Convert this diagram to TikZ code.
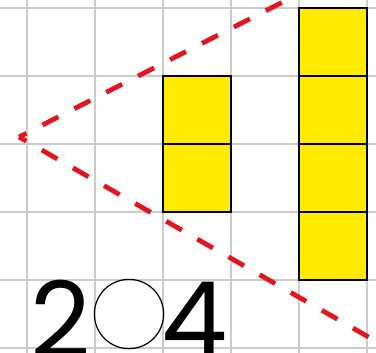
\documentclass[tikz,border=0pt]{standalone}
\usepackage{fontspec}
\newfontfamily\digitfont{Poppins}
\definecolor{gridgray}{RGB}{204,204,204}
\definecolor{cellyellow}{RGB}{255,235,0}
\definecolor{dashred}{RGB}{230,20,30}
\begin{document}
\begin{tikzpicture}[x=0.14706mm, y=-0.14706mm,
  gridline/.style={draw=gridgray, line width=0.8pt},
  cell/.style={draw=black, fill=cellyellow, line width=0.8pt, minimum size=28.3pt, inner sep=0pt, outer sep=0pt, shape=rectangle},
  redline/.style={draw=dashred, line width=2pt, dash pattern=on 7.5pt off 7.5pt, dash phase=4pt},
  digit/.style={inner sep=0pt, outer sep=0pt, font=\digitfont\fontsize{44}{44}\selectfont},
  ring/.style={draw=black, line width=0.5pt, circle, minimum size=29pt, inner sep=0pt}]
\useasboundingbox (0,0) rectangle (376,352);
\clip (0,0) rectangle (376,352);
% grid
\foreach \gx in {27,95,163,231,299,367} \draw[gridline] (\gx,-10) -- (\gx,362);
\foreach \gy in {8,76,144,212,280,348} \draw[gridline] (-10,\gy) -- (386,\gy);
% yellow cells
\node[cell] (l1) at (197,110) {};
\node[cell] (l2) at (197,178) {};
\node[cell] (r1) at (333,42) {};
\node[cell] (r2) at (333,110) {};
\node[cell] (r3) at (333,178) {};
\node[cell] (r4) at (333,246) {};
% red dashed lines
\coordinate (apex) at (19,137);
\coordinate (upend) at (400,-58);
\coordinate (lowend) at (400,355);
\draw[redline] (apex) -- (upend);
\draw[redline] (apex) -- (lowend);
% digits and circle
\node[digit, anchor=base] (two) at (61,357) {2};
\node[ring] (blank) at (129,314) {};
\node[digit, anchor=base] (four) at (195,357) {4};
\end{tikzpicture}
\end{document}
